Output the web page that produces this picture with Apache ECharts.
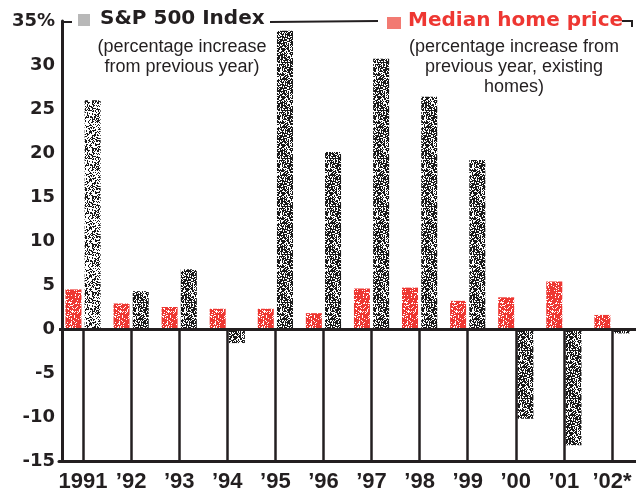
<!DOCTYPE html>
<html>
<head>
<meta charset="utf-8">
<script src="https://cdn.jsdelivr.net/npm/echarts@6/dist/echarts.min.js"></script>
<style>
  html, body { margin: 0; padding: 0; background: #fff; }
  #chart { width: 636px; height: 493px; }
</style>
</head>
<body>
<div id="chart"></div>
<script>
  var years = ['1991', '\u201992', '\u201993', '\u201994', '\u201995', '\u201996', '\u201997', '\u201998', '\u201999', '\u201900', '\u201901', '\u201902*']
  var homePrice = [4.5, 2.9, 2.5, 2.3, 2.3, 1.8, 4.6, 4.7, 3.2, 3.6, 5.4, 1.6]
  var sp500 = [26.0, 4.3, 6.8, -1.6, 33.9, 20.1, 30.7, 26.4, 19.2, -10.2, -13.2, -0.5]
  var yTicks = { min: -15, max: 35, step: 5 }

  var ink = '#231f20'
  var red = '#ee3732'

  // speckled fill like the printed screen (integer hash, no randomness)
  function hash(x, y, seed) {
    var h = (x * 374761393 + y * 668265263 + seed * 2147483647) | 0
    h = Math.imul(h ^ (h >>> 13), 1274126177)
    h = h ^ (h >>> 16)
    return (h >>> 0) / 4294967296
  }

  function stipple(color, density, seed) {
    var c = document.createElement('canvas')
    c.width = 48
    c.height = 48
    var ctx = c.getContext('2d')
    ctx.fillStyle = color
    for (var y = 0; y < 48; y++) {
      for (var x = 0; x < 48; x++) {
        if (hash(x, y, seed) < density) ctx.fillRect(x, y, 1, 1)
      }
    }
    return { image: c, repeat: 'repeat' }
  }

  var grayFill = stipple('#1a1a1a', 0.62, 1)
  var lightGrayFill = stipple('#1a1a1a', 0.42, 5)
  var redFill = stipple(red, 0.78, 9)

  // separators below the zero line, one per year
  var dividers = years.map(function (y) {
    return [{ coord: [y, 0] }, { coord: [y, yTicks.min] }]
  })

  var chart = echarts.init(document.getElementById('chart'))
  chart.setOption({
    animation: false,
    grid: { left: 59, right: 0, top: 21, bottom: 32 },
    xAxis: {
      type: 'category',
      data: years,
      axisLine: { onZero: false, lineStyle: { color: ink, width: 3 } },
      axisTick: { show: false },
      axisLabel: {
        interval: 0,
        hideOverlap: false,
        margin: 10,
        color: ink,
        fontFamily: 'Liberation Sans',
        fontWeight: 'bold',
        fontSize: 22,
      },
    },
    yAxis: {
      type: 'value',
      min: yTicks.min,
      max: yTicks.max,
      interval: yTicks.step,
      offset: -3,
      axisLine: { show: true, lineStyle: { color: ink, width: 3 } },
      axisTick: { show: false },
      splitLine: { show: false },
      axisLabel: {
        margin: 7,
        color: ink,
        fontFamily: 'DejaVu Sans',
        fontWeight: 'bold',
        fontSize: 18,
        formatter: function (v) { return v === yTicks.max ? v + '%' : String(v) },
      },
    },
    series: [
      {
        name: 'Median home price',
        type: 'bar',
        data: homePrice,
        barWidth: 16,
        barGap: '20%',
        itemStyle: { color: redFill },
      },
      {
        name: 'S&P 500 Index',
        type: 'bar',
        data: sp500.map(function (v, i) {
          return i === 0 ? { value: v, itemStyle: { color: lightGrayFill } } : v
        }),
        barWidth: 16,
        itemStyle: { color: grayFill },
      },
      {
        name: 'frame',
        type: 'line',
        data: [],
        silent: true,
        markLine: {
          silent: true,
          symbol: 'none',
          label: { show: false },
          lineStyle: { color: ink, width: 2.5, type: 'solid' },
          data: dividers.concat([{ yAxis: 0, lineStyle: { width: 3 } }]),
        },
      },
    ],
    graphic: [
      { type: 'line', shape: { x1: 62, y1: 22, x2: 72, y2: 22 }, style: { stroke: ink, lineWidth: 2 } },
      { type: 'line', shape: { x1: 270, y1: 22, x2: 378, y2: 21 }, style: { stroke: ink, lineWidth: 2 } },
      { type: 'line', shape: { x1: 622, y1: 21, x2: 632, y2: 21 }, style: { stroke: ink, lineWidth: 2 } },
      { type: 'line', shape: { x1: 632, y1: 20, x2: 632, y2: 27 }, style: { stroke: ink, lineWidth: 2 } },
      { type: 'rect', shape: { x: 78, y: 14, width: 12, height: 12 }, style: { fill: '#b8b8b8' } },
      { type: 'rect', shape: { x: 387, y: 17, width: 14, height: 12 }, style: { fill: '#f27a72' } },
      {
        type: 'text', left: 100, top: 9,
        style: { text: 'S&P 500 Index', fill: ink, font: 'bold 20px "DejaVu Sans"' },
      },
      {
        type: 'text', left: 408, top: 11,
        style: { text: 'Median home price', fill: red, font: 'bold 20px "DejaVu Sans"' },
      },
      {
        type: 'text', x: 182, y: 37,
        style: {
          text: '(percentage increase\nfrom previous year)',
          fill: ink, font: '18px "Liberation Sans"', align: 'center', verticalAlign: 'top', lineHeight: 20,
        },
      },
      {
        type: 'text', x: 514, y: 37,
        style: {
          text: '(percentage increase from\nprevious year, existing\nhomes)',
          fill: ink, font: '18px "Liberation Sans"', align: 'center', verticalAlign: 'top', lineHeight: 20,
        },
      },
    ],
  })
</script>
</body>
</html>
